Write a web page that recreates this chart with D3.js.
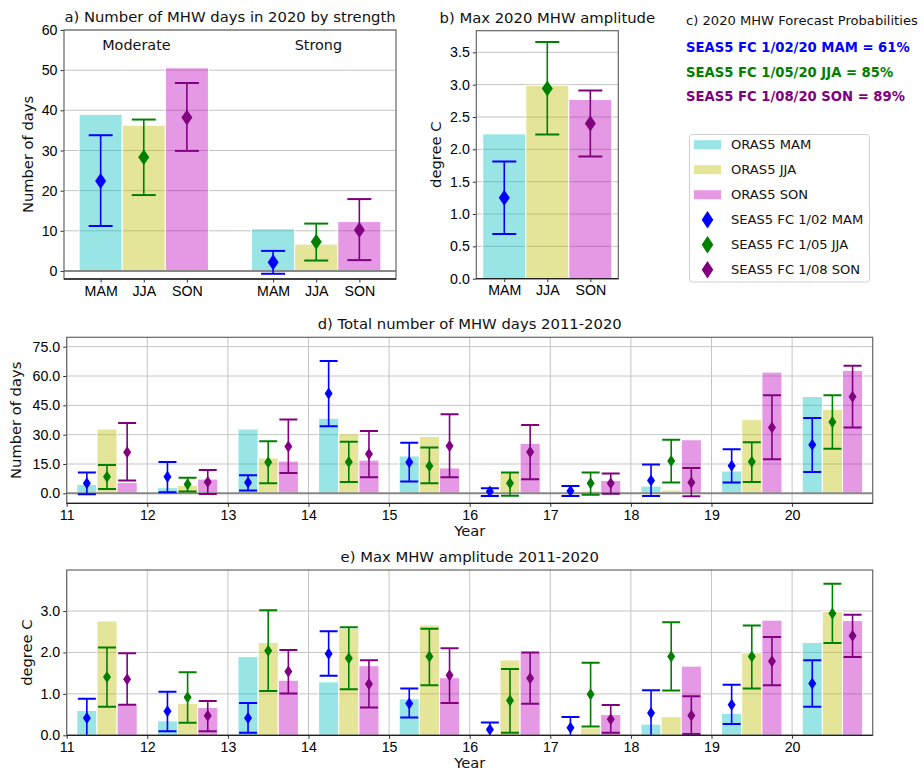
<!DOCTYPE html>
<html>
<head>
<meta charset="utf-8">
<script src="https://cdn.jsdelivr.net/npm/d3@7"></script>
<style>
  body { margin: 0; background: #fff; }
  svg { font-family: "DejaVu Sans", sans-serif; }
  .tick text { font-size: 14.2px; fill: #000; }
  .tick line { stroke: #333; }
  .domain { display: none; }
</style>
</head>
<body>
<svg id="chart" width="924" height="770"></svg>
<script>
// ---- data ----
var seasons = ["MAM", "JJA", "SON"];
var strengths = ["Moderate", "Strong"];
var seasonColors = ["#00bfbf", "#bfbf00", "#bf00bf"];
var fcColors = ["#0000ff", "#008000", "#800080"];
var forecastLines = ["SEAS5 FC 1/02/20 MAM = 61%", "SEAS5 FC 1/05/20 JJA = 85%", "SEAS5 FC 1/08/20 SON = 89%"];
var legendLabels = ["ORAS5 MAM", "ORAS5 JJA", "ORAS5 SON", "SEAS5 FC 1/02 MAM", "SEAS5 FC 1/05 JJA", "SEAS5 FC 1/08 SON"];

// a) 2020 days by strength
var modObs = [39.0, 36.3, 50.6];
var modFc = [22.4, 28.3, 38.2];
var modLo = [11.2, 18.9, 29.9];
var modHi = [33.8, 37.7, 46.8];
var strongObs = [10.5, 6.7, 12.3];
var strongFc = [2.2, 7.3, 10.2];
var strongLo = [-0.7, 2.6, 2.7];
var strongHi = [5.0, 11.8, 17.9];

// b) 2020 max amplitude
var ampObs2020 = [2.24, 2.99, 2.77];
var ampFc2020 = [1.25, 2.94, 2.40];
var ampLo2020 = [0.69, 2.23, 1.89];
var ampHi2020 = [1.81, 3.66, 2.91];

// d) days 2011-2020
var years = [11, 12, 13, 14, 15, 16, 17, 18, 19, 20];
var daysObsMAM = [4.6, 2.9, 32.9, 38.4, 19.1, 0, 0, 3.7, 11.4, 49.5];
var daysObsJJA = [32.9, 4.1, 18.1, 30.5, 29.1, 10.6, 1.2, 1.7, 37.7, 43.0];
var daysObsSON = [5.5, 7.3, 16.5, 17.0, 13.0, 25.6, 6.6, 27.4, 62.0, 62.9];
var daysFcMAM = [5.1, 8.5, 5.6, 51.0, 15.9, 0.9, 1.2, 6.5, 14.1, 24.8];
var daysLoMAM = [-0.5, 0.5, 1.5, 34.3, 6.1, -1.4, -1.4, -1.4, 5.5, 10.9];
var daysHiMAM = [10.7, 16.0, 9.2, 67.7, 25.9, 2.6, 3.7, 14.7, 22.5, 38.5];
var daysFcJJA = [8.5, 4.6, 15.9, 16.0, 14.0, 5.1, 5.1, 16.5, 16.2, 36.5];
var daysLoJJA = [2.2, 0.9, 5.1, 5.8, 5.1, -1.2, -0.7, 5.5, 5.8, 22.8];
var daysHiJJA = [14.5, 8.0, 26.6, 26.4, 23.5, 10.7, 10.7, 27.4, 26.1, 50.1];
var daysFcSON = [21.0, 5.8, 23.9, 20.1, 24.2, 21.1, 5.1, 5.5, 33.7, 49.4];
var daysLoSON = [6.5, -0.3, 10.4, 8.2, 8.2, 7.2, -0.2, -1.5, 17.4, 33.7];
var daysHiSON = [36.0, 11.9, 37.7, 31.9, 40.4, 34.9, 10.1, 13.0, 50.1, 65.3];

// e) max amplitude 2011-2020
var ampObsMAM = [0.60, 0.35, 1.90, 1.29, 0.88, 0, 0, 0.27, 0.53, 2.24];
var ampObsJJA = [2.76, 0.77, 2.24, 2.58, 2.66, 1.82, 0.18, 0.45, 1.99, 2.99];
var ampObsSON = [0.74, 0.67, 1.33, 1.68, 1.39, 2.02, 0.50, 1.67, 2.78, 2.77];
var ampFcMAM = [0.42, 0.58, 0.42, 1.97, 0.77, 0.14, 0.18, 0.54, 0.74, 1.25];
var ampLoMAM = [-0.05, 0.10, 0.06, 1.44, 0.43, -0.05, -0.08, -0.05, 0.27, 0.69];
var ampHiMAM = [0.88, 1.05, 0.78, 2.51, 1.13, 0.31, 0.44, 1.09, 1.22, 1.81];
var ampFcJJA = [1.41, 0.92, 2.04, 1.86, 1.90, 0.84, 0.99, 1.90, 1.90, 2.94];
var ampLoJJA = [0.69, 0.30, 1.07, 1.11, 1.21, 0.06, 0.21, 1.08, 1.13, 2.23];
var ampHiJJA = [2.12, 1.52, 3.02, 2.61, 2.57, 1.60, 1.75, 2.73, 2.65, 3.66];
var ampFcSON = [1.35, 0.47, 1.54, 1.24, 1.45, 1.38, 0.39, 0.48, 1.79, 2.40];
var ampLoSON = [0.74, 0.10, 1.01, 0.67, 0.78, 0.76, 0.06, 0.03, 1.21, 1.89];
var ampHiSON = [1.98, 0.83, 2.06, 1.81, 2.10, 2.00, 0.73, 0.94, 2.37, 2.91];

var svg = d3.select("#chart");
var clipCount = 0;

function diamondPath(w, h) {
    return "M0," + (-h) + "L" + w + ",0L0," + h + "L" + (-w) + ",0Z";
}

/* Build an axes box with scales, grid, spines */
function makeAxes(o) {
    var x = d3.scaleLinear().domain(o.xdom).range([o.left, o.right]);
    var y = d3.scaleLinear().domain(o.ydom).range([o.bottom, o.top]);
    var g = svg.append("g");
    var id = "clip" + (clipCount++);
    svg.append("clipPath").attr("id", id)
        .append("rect")
        .attr("x", o.left).attr("y", o.top)
        .attr("width", o.right - o.left).attr("height", o.bottom - o.top);

    // grid
    var grid = g.append("g").attr("stroke", "#c4c4c4").attr("stroke-width", 1);
    o.yticks.forEach(function(t) {
        grid.append("line").attr("x1", o.left).attr("x2", o.right)
            .attr("y1", y(t)).attr("y2", y(t));
    });
    if (o.xgrid) {
        o.xticks.forEach(function(t) {
            grid.append("line").attr("y1", o.top).attr("y2", o.bottom)
                .attr("x1", x(t)).attr("x2", x(t));
        });
    }
    var plot = g.append("g").attr("clip-path", "url(#" + id + ")");

    // axes
    g.append("g").attr("transform", "translate(" + o.left + ",0)")
        .call(d3.axisLeft(y).tickValues(o.yticks).tickSize(3.5).tickPadding(3)
            .tickFormat(o.yfmt || d3.format("d")));
    g.append("g").attr("transform", "translate(0," + o.bottom + ")")
        .call(d3.axisBottom(x).tickValues(o.xticks).tickSize(3.5).tickPadding(3)
            .tickFormat(o.xfmt || d3.format("d")));

    var top = g.append("g");
    top.append("rect").attr("x", o.left).attr("y", o.top)
        .attr("width", o.right - o.left).attr("height", o.bottom - o.top)
        .attr("fill", "none").attr("stroke", "#666").attr("stroke-width", 1.2);
    top.append("line").attr("x1", o.left).attr("x2", o.right)
        .attr("y1", o.bottom).attr("y2", o.bottom)
        .attr("stroke", "#222").attr("stroke-width", 1.3);

    svg.append("text").attr("x", (o.left + o.right) / 2).attr("y", o.top - 8)
        .attr("text-anchor", "middle").attr("font-size", 14.8).attr("fill", "#111")
        .text(o.title);
    svg.append("text")
        .attr("transform", "translate(" + o.ylabX + "," + ((o.top + o.bottom) / 2) + ") rotate(-90)")
        .attr("text-anchor", "middle").attr("dy", "0.35em")
        .attr("font-size", 14.7).attr("fill", "#111").text(o.ylabel);
    if (o.xlabel) {
        svg.append("text").attr("x", (o.left + o.right) / 2).attr("y", o.bottom + 27.5)
            .attr("dy", "0.35em")
            .attr("text-anchor", "middle").attr("font-size", 14.7).attr("fill", "#111")
            .text(o.xlabel);
    }
    return {x: x, y: y, plot: plot, top: top, o: o};
}

function drawBar(ax, xc, w, v, color) {
    var y0 = ax.y(0), y1 = ax.y(v);
    ax.plot.append("rect")
        .attr("x", ax.x(xc - w / 2)).attr("width", ax.x(xc + w / 2) - ax.x(xc - w / 2))
        .attr("y", Math.min(y0, y1)).attr("height", Math.abs(y0 - y1))
        .attr("fill", color).attr("fill-opacity", 0.4)
        .attr("stroke", "#fff").attr("stroke-width", 1);
}

function drawFc(ax, xc, v, lo, hi, color, cap, dw, dh) {
    var px = ax.x(xc);
    var eg = ax.plot.append("g").attr("stroke", color).attr("stroke-width", 1.6);
    eg.append("line").attr("x1", px).attr("x2", px).attr("y1", ax.y(lo)).attr("y2", ax.y(hi));
    eg.append("line").attr("x1", px - cap).attr("x2", px + cap).attr("y1", ax.y(lo)).attr("y2", ax.y(lo)).attr("stroke-width", 2);
    eg.append("line").attr("x1", px - cap).attr("x2", px + cap).attr("y1", ax.y(hi)).attr("y2", ax.y(hi)).attr("stroke-width", 2);
    ax.plot.append("path").attr("d", diamondPath(dw, dh))
        .attr("transform", "translate(" + px + "," + ax.y(v) + ")")
        .attr("fill", color);
}

function zeroLine(ax) {
    ax.plot.append("line").attr("x1", ax.o.left).attr("x2", ax.o.right)
        .attr("y1", ax.y(0)).attr("y2", ax.y(0))
        .attr("stroke", "#888").attr("stroke-width", 2);
}

// ---- a) ----
var axA = makeAxes({
    left: 64, right: 396, top: 30, bottom: 279,
    xdom: [-0.85, 6.85], ydom: [-2, 60],
    yticks: [0, 10, 20, 30, 40, 50, 60], xticks: [0, 1, 2, 4, 5, 6],
    xfmt: function(d) { return seasons[d % 4]; },
    title: "a) Number of MHW days in 2020 by strength",
    ylabel: "Number of days", ylabX: 28
});
var aObs = [modObs, strongObs], aFc = [modFc, strongFc], aLo = [modLo, strongLo], aHi = [modHi, strongHi];
strengths.forEach(function(s, k) {
    seasons.forEach(function(se, i) {
        drawBar(axA, k * 4 + i, 1, aObs[k][i], seasonColors[i]);
    });
});
zeroLine(axA);
strengths.forEach(function(s, k) {
    seasons.forEach(function(se, i) {
        drawFc(axA, k * 4 + i, aFc[k][i], aLo[k][i], aHi[k][i], fcColors[i], 12, 5.5, 8);
    });
});
var strengthLabelX = [0.83, 5.05];
strengths.forEach(function(s, k) {
    svg.append("text").attr("x", axA.x(strengthLabelX[k])).attr("y", axA.y(56.3))
        .attr("dy", "0.35em").attr("text-anchor", "middle")
        .attr("font-size", 14.4).attr("fill", "#111").text(s);
});

// ---- b) ----
var axB = makeAxes({
    left: 476.3, right: 618.3, top: 30.7, bottom: 278.7,
    xdom: [-0.65, 2.65], ydom: [0, 3.834],
    yticks: [0, 0.5, 1, 1.5, 2, 2.5, 3, 3.5], xticks: [0, 1, 2],
    xfmt: function(d) { return seasons[d]; }, yfmt: d3.format(".1f"),
    title: "b) Max 2020 MHW amplitude",
    ylabel: "degree C", ylabX: 436
});
seasons.forEach(function(se, i) {
    drawBar(axB, i, 1, ampObs2020[i], seasonColors[i]);
});
seasons.forEach(function(se, i) {
    drawFc(axB, i, ampFc2020[i], ampLo2020[i], ampHi2020[i], fcColors[i], 12, 5.5, 8);
});

// ---- c) text + legend ----
svg.append("text").attr("x", 686).attr("y", 20).attr("dy", "0.35em")
    .attr("font-size", 13.1).attr("fill", "#111")
    .text("c) 2020 MHW Forecast Probabilities");
forecastLines.forEach(function(t, i) {
    svg.append("text").attr("x", 686).attr("y", 47.7 + 24.5 * i).attr("dy", "0.35em")
        .attr("font-size", 13.2).attr("font-weight", "bold").attr("fill", fcColors[i]).text(t);
});
var leg = svg.append("g");
leg.append("rect").attr("x", 689.5).attr("y", 134.5).attr("width", 180).attr("height", 147.5)
    .attr("rx", 3).attr("fill", "#fff").attr("stroke", "#d0d0d0");
legendLabels.forEach(function(t, i) {
    var cy = 144.7 + 25 * i;
    if (i < 3) {
        leg.append("rect").attr("x", 694).attr("y", cy - 4.5).attr("width", 27).attr("height", 9)
            .attr("fill", seasonColors[i]).attr("fill-opacity", 0.4);
    } else {
        leg.append("path").attr("d", diamondPath(5.8, 8.8))
            .attr("transform", "translate(707.5," + cy + ")").attr("fill", fcColors[i - 3]);
    }
    leg.append("text").attr("x", 731).attr("y", cy).attr("dy", "0.35em")
        .attr("font-size", 13.1).attr("fill", "#111").text(t);
});

// ---- d) and e) ----
function yearPanel(o, obs, fc, lo, hi, withZero) {
    var ax = makeAxes(o);
    var offs = [0.25, 0.5, 0.75];
    years.forEach(function(yr, j) {
        seasons.forEach(function(se, i) {
            drawBar(ax, yr + offs[i], 0.25, obs[i][j], seasonColors[i]);
        });
    });
    if (withZero) zeroLine(ax);
    years.forEach(function(yr, j) {
        seasons.forEach(function(se, i) {
            drawFc(ax, yr + offs[i], fc[i][j], lo[i][j], hi[i][j], fcColors[i], 9, 4, 6);
        });
    });
    return ax;
}

yearPanel({
    left: 66.7, right: 872.7, top: 337.3, bottom: 503.3,
    xdom: [11, 21], ydom: [-5.1, 79.8],
    yticks: [0, 15, 30, 45, 60, 75], xticks: years, xgrid: true,
    yfmt: d3.format(".1f"),
    title: "d) Total number of MHW days 2011-2020",
    ylabel: "Number of days", ylabX: 16, xlabel: "Year"
}, [daysObsMAM, daysObsJJA, daysObsSON], [daysFcMAM, daysFcJJA, daysFcSON],
   [daysLoMAM, daysLoJJA, daysLoSON], [daysHiMAM, daysHiJJA, daysHiSON], true);

yearPanel({
    left: 66.7, right: 872.7, top: 570, bottom: 735.3,
    xdom: [11, 21], ydom: [0, 3.99],
    yticks: [0, 1, 2, 3], xticks: years, xgrid: true,
    yfmt: d3.format(".1f"),
    title: "e) Max MHW amplitude 2011-2020",
    ylabel: "degree C", ylabX: 27, xlabel: "Year"
}, [ampObsMAM, ampObsJJA, ampObsSON], [ampFcMAM, ampFcJJA, ampFcSON],
   [ampLoMAM, ampLoJJA, ampLoSON], [ampHiMAM, ampHiJJA, ampHiSON], false);
</script>
</body>
</html>
